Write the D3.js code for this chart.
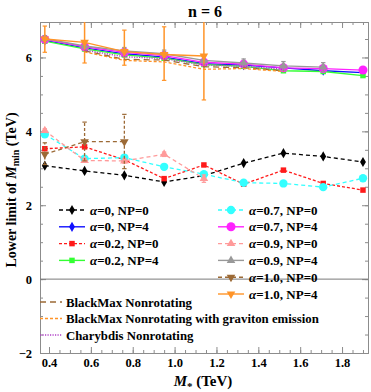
<!DOCTYPE html>
<html><head><meta charset="utf-8">
<script src="https://cdn.jsdelivr.net/npm/d3@7"></script>
<style>body{margin:0;background:#fff}svg{display:block}text{font-family:"Liberation Serif","Times New Roman",serif;font-weight:bold}</style>
</head><body><svg id="c" width="371" height="392"></svg>
<script>
const xs = [0.38, 0.57, 0.76, 0.95, 1.14, 1.33, 1.52, 1.71, 1.90];
const xTicks = [0.4, 0.6, 0.8, 1.0, 1.2, 1.4, 1.6, 1.8];
const yTicks = [-2, 0, 2, 4, 6];
// NP = 0 series
const a0np0 = [3.07, 2.93, 2.81, 2.63, 2.80, 3.14, 3.41, 3.32, 3.17];
const a02np0 = [3.53, 3.58, 3.23, 2.72, 3.09, 2.57, 2.95, 2.59, 2.41];
const a07np0 = [3.92, 3.26, 3.29, 3.04, 2.84, 2.61, 2.59, 2.49, 2.73];
const a09np0 = [4.02, 3.21, 3.20, 3.38, 2.72];
const a09np0Err = [0.05, 0.05, 0.06, 0.06, 0.10];
const a10np0 = [3.38, 3.72, 3.72];
const a10np0Lo = [3.10, 3.20, 2.99];
const a10np0Hi = [3.69, 4.25, 4.46];
// NP = 4 series
const a0np4 = [6.46, 6.26, 6.10, 6.01, 5.83, 5.79, 5.72, 5.64, 5.59];
const a02np4 = [6.44, 6.23, 6.07, 5.98, 5.81, 5.76, 5.64, 5.62, 5.51];
const a07np4 = [6.49, 6.29, 6.14, 6.05, 5.87, 5.82, 5.72, 5.70, 5.66];
const a09np4 = [6.51, 6.31, 6.18, 6.10, 5.92, 5.85, 5.77, 5.74];
const a09np4Err = [0.08, 0.08, 0.09, 0.10, 0.10, 0.11, 0.12, 0.12];
const a10np4 = [6.50, 6.41, 6.16, 6.08, 6.04];
const a10np4Lo = [6.14, 5.85, 5.79, 5.38, 4.85];
const a10np4Hi = [6.85, 7.05, 6.74, 6.83, 7.30];
// reference generators (x index 1..6)
const refX = [0.57, 0.76, 0.95, 1.14, 1.33, 1.52];
const blackMax = [6.18, 5.95, 5.93, 5.75, 5.72, 5.64];
const blackMaxGrav = [6.15, 5.92, 5.88, 5.68, 5.70, 5.62];
const charybdis = [6.20, 6.02, 5.97, 5.80, 5.76, 5.68];

const svg = d3.select("#c");
const L = 40, R = 368, T = 22, B = 353;
const x = d3.scaleLinear().domain([0.357, 1.924]).range([L, R]);
const y = d3.scaleLinear().domain([-2, 6.96]).range([B, T]);
const frameCol = "#8c8c8c";

function fmtX(d){ return d3.format(".1f")(d); }
function fmtY(d){ return d < 0 ? "\u2212" + Math.abs(d) : String(d); }
const xMinor = d3.range(0.35, 1.93, 0.05).filter(v => v >= 0.357 && v <= 1.924);
const yMinor = d3.range(-2, 6.96, 0.5);
function styleAxis(g){ g.selectAll("path").attr("stroke", frameCol); g.selectAll("line").attr("stroke", frameCol); }
svg.append("g").attr("transform", `translate(0,${B})`).call(d3.axisBottom(x).tickValues(xMinor).tickSize(-3).tickFormat("")).call(styleAxis);
svg.append("g").attr("transform", `translate(0,${B})`).call(d3.axisBottom(x).tickValues(xTicks).tickSize(-6).tickPadding(5).tickFormat(fmtX)).call(styleAxis)
  .selectAll("text").attr("font-size", 12.5).attr("fill", "#000").attr("font-family", "Liberation Serif").attr("font-weight", "bold");
svg.append("g").attr("transform", `translate(0,${T})`).call(d3.axisTop(x).tickValues(xMinor).tickSize(-3).tickFormat("")).call(styleAxis);
svg.append("g").attr("transform", `translate(0,${T})`).call(d3.axisTop(x).tickValues(xTicks).tickSize(-6).tickFormat("")).call(styleAxis);
svg.append("g").attr("transform", `translate(${L},0)`).call(d3.axisLeft(y).tickValues(yMinor).tickSize(-3).tickFormat("")).call(styleAxis);
svg.append("g").attr("transform", `translate(${L},0)`).call(d3.axisLeft(y).tickValues(yTicks).tickSize(-6).tickPadding(8).tickFormat(fmtY)).call(styleAxis)
  .selectAll("text").attr("font-size", 12.5).attr("fill", "#000").attr("font-family", "Liberation Serif").attr("font-weight", "bold");
svg.append("g").attr("transform", `translate(${R},0)`).call(d3.axisRight(y).tickValues(yMinor).tickSize(-3).tickFormat("")).call(styleAxis);
svg.append("g").attr("transform", `translate(${R},0)`).call(d3.axisRight(y).tickValues(yTicks).tickSize(-6).tickFormat("")).call(styleAxis);
svg.append("line").attr("x1", L).attr("x2", R).attr("y1", y(0)).attr("y2", y(0)).attr("stroke", "#7a7a7a").attr("stroke-width", 1);

svg.append("defs").append("clipPath").attr("id", "clip").append("rect").attr("x", L).attr("y", T).attr("width", R - L).attr("height", B - T);
const plot = svg.append("g").attr("clip-path", "url(#clip)");

const sym = {
  diamond: d3.symbol().type(d3.symbolDiamond).size(30),
  square: d3.symbol().type(d3.symbolSquare).size(30),
  circle: d3.symbol().type(d3.symbolCircle).size(55),
  circleBig: d3.symbol().type(d3.symbolCircle).size(64),
  tri: d3.symbol().type(d3.symbolTriangle).size(32),
  dtri: d3.symbol().type(d3.symbolTriangle).size(32)
};
const line = d3.line().x(d => x(d[0])).y(d => y(d[1]));

function series(vals, color, dash, marker, opts = {}) {
  const pts = vals.map((v, i) => [xs[i], v]);
  const g = plot.append("g");
  if (opts.lo) {
    pts.forEach((p, i) => {
      const lo = opts.lo[i], hi = opts.hi[i];
      g.append("line").attr("x1", x(p[0])).attr("x2", x(p[0])).attr("y1", y(lo)).attr("y2", y(hi))
        .attr("stroke", color).attr("stroke-width", opts.ew || 1.3).attr("stroke-dasharray", opts.edash || null);
      [lo, hi].forEach(v => g.append("line").attr("x1", x(p[0]) - 2.2).attr("x2", x(p[0]) + 2.2).attr("y1", y(v)).attr("y2", y(v)).attr("stroke", color).attr("stroke-width", 1.2));
    });
  }
  g.append("path").datum(pts).attr("d", line).attr("fill", "none").attr("stroke", color)
    .attr("stroke-width", opts.w || 1.3).attr("stroke-dasharray", dash);
  pts.forEach(p => {
    g.append("path").attr("d", sym[marker]()).attr("fill", color)
      .attr("transform", `translate(${x(p[0])},${y(p[1])})` + (marker === "dtri" ? " rotate(180)" : ""));
  });
}
function refLine(vals, color, dash, w) {
  plot.append("path").datum(vals.map((v, i) => [refX[i], v])).attr("d", line).attr("fill", "none")
    .attr("stroke", color).attr("stroke-width", w).attr("stroke-dasharray", dash);
}

const C = {
  black: "#000000", blue: "#1010ff", red: "#ff1a1a", green: "#33ff33", cyan: "#33ffff",
  magenta: "#ff22ff", pink: "#ff9a9a", gray: "#999999", brown: "#9c6a36", orange: "#ff9428", purple: "#b040c8"
};

series(a0np0, C.black, "4,3", "diamond");
series(a0np4, C.blue, null, "diamond");
series(a02np0, C.red, "3,2", "square");
series(a02np4, C.green, null, "square");
series(a07np0, C.cyan, "4,3", "circle");
series(a07np4, C.magenta, null, "circleBig");
series(a09np0, C.pink, "4,3", "tri", {lo: a09np0.map((v, i) => v - a09np0Err[i]), hi: a09np0.map((v, i) => v + a09np0Err[i])});
series(a09np4, C.gray, null, "tri", {lo: a09np4.map((v, i) => v - a09np4Err[i]), hi: a09np4.map((v, i) => v + a09np4Err[i])});
series(a10np0, C.brown, "4,3", "dtri", {lo: a10np0Lo, hi: a10np0Hi, edash: "3,2"});
series(a10np4, C.orange, null, "dtri", {lo: a10np4Lo, hi: a10np4Hi, ew: 1.5});
refLine(blackMax, C.brown, "6,4", 1.3);
refLine(blackMaxGrav, C.orange, "3,2", 1.3);
refLine(charybdis, C.purple, "1.2,1.3", 1.4);

const legRows = [
  {col: 0, row: 0, label: "\u03b1=0, NP=0", c: C.black, dash: "4,3", m: "diamond"},
  {col: 0, row: 1, label: "\u03b1=0, NP=4", c: C.blue, dash: null, m: "diamond"},
  {col: 0, row: 2, label: "\u03b1=0.2, NP=0", c: C.red, dash: "3,2", m: "square"},
  {col: 0, row: 3, label: "\u03b1=0.2, NP=4", c: C.green, dash: null, m: "square"},
  {col: 1, row: 0, label: "\u03b1=0.7, NP=0", c: C.cyan, dash: "4,3", m: "circle"},
  {col: 1, row: 1, label: "\u03b1=0.7, NP=4", c: C.magenta, dash: null, m: "circleBig"},
  {col: 1, row: 2, label: "\u03b1=0.9, NP=0", c: C.pink, dash: "4,3", m: "tri"},
  {col: 1, row: 3, label: "\u03b1=0.9, NP=4", c: C.gray, dash: null, m: "tri"},
  {col: 1, row: 4, label: "\u03b1=1.0, NP=0", c: C.brown, dash: "4,3", m: "dtri"},
  {col: 1, row: 5, label: "\u03b1=1.0, NP=4", c: C.orange, dash: null, m: "dtri"}
];
const leg = svg.append("g");
legRows.forEach(r => {
  const x0 = r.col === 0 ? 59 : 218, yy = 210 + r.row * 16.8;
  leg.append("line").attr("x1", x0).attr("x2", x0 + 26).attr("y1", yy).attr("y2", yy)
    .attr("stroke", r.c).attr("stroke-width", 1.4).attr("stroke-dasharray", r.dash);
  leg.append("path").attr("d", sym[r.m]()).attr("fill", r.c)
    .attr("transform", `translate(${x0 + 13},${yy})` + (r.m === "dtri" ? " rotate(180)" : ""));
  const t = leg.append("text").attr("x", x0 + 31).attr("y", yy + 4.5).attr("font-size", 13);
  t.append("tspan").attr("font-style", "italic").text("\u03b1");
  t.append("tspan").text(r.label.slice(1));
});
const refLeg = [
  {label: "BlackMax Nonrotating", c: C.brown, dash: "6,4", w: 1.3},
  {label: "BlackMax Nonrotating with graviton emission", c: C.orange, dash: "3,2", w: 1.3},
  {label: "Charybdis Nonrotating", c: C.purple, dash: "1.2,1.3", w: 1.4}
];
refLeg.forEach((r, i) => {
  const yy = 302 + i * 16.5;
  leg.append("line").attr("x1", 40).attr("x2", 62).attr("y1", yy).attr("y2", yy).attr("stroke", r.c).attr("stroke-width", r.w).attr("stroke-dasharray", r.dash);
  leg.append("text").attr("x", 66).attr("y", yy + 4.5).attr("font-size", 12.8).text(r.label);
});

svg.append("text").attr("x", 205).attr("y", 17).attr("text-anchor", "middle").attr("font-size", 16).text("n = 6");
const xl = svg.append("text").attr("x", 203).attr("y", 386).attr("text-anchor", "middle").attr("font-size", 15);
xl.append("tspan").attr("font-style", "italic").text("M");
xl.append("tspan").attr("font-size", 11).attr("dy", 4).text("*");
xl.append("tspan").attr("dy", -4).text(" (TeV)");
const yl = svg.append("text").attr("transform", "translate(16,190) rotate(-90)").attr("text-anchor", "middle").attr("font-size", 14);
yl.append("tspan").text("Lower limit of ");
yl.append("tspan").attr("font-style", "italic").text("M");
yl.append("tspan").attr("font-size", 10).attr("dy", 3).text("min");
yl.append("tspan").attr("dy", -3).text(" (TeV)");
</script></body></html>
